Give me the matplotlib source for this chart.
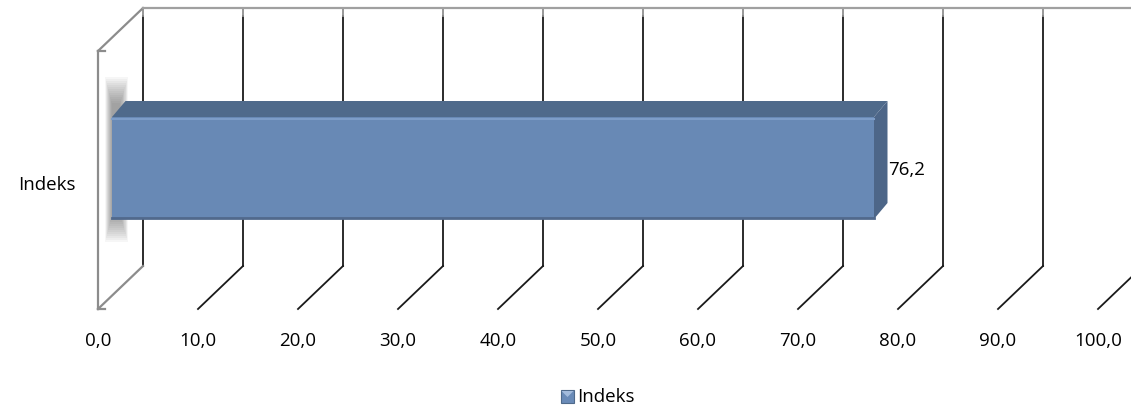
import matplotlib
matplotlib.use("Agg")
import matplotlib.pyplot as plt
from matplotlib.patches import Polygon, Rectangle

# --- data ---
categories = ["Indeks"]
values = [76.2]
ticks = [0, 10, 20, 30, 40, 50, 60, 70, 80, 90, 100]
tick_labels = ["0,0", "10,0", "20,0", "30,0", "40,0", "50,0", "60,0", "70,0", "80,0", "90,0", "100,0"]
value_labels = ["76,2"]
legend_label = "Indeks"

plt.rcParams["font.family"] = ["Open Sans", "DejaVu Sans"]
FS = 13.5

W, H = 1131, 414
fig = plt.figure(figsize=(W / 100, H / 100), dpi=100)
ax = fig.add_axes([0, 0, 1, 1])
# x in value units (10 px per unit, front plane starts at px 98), y in px
ax.set_xlim(-9.8, (W - 98) / 10)
ax.set_ylim(H, 0)
ax.axis("off")

# pseudo-3D geometry (front plane -> back wall offset)
DX, DY = 4.5, -43
floor, top = 310, 52
wall_c = "#8c8c8c"
grid_c = "#1a1a1a"

# left side wall
ax.plot([0, 0], [floor, top], color=wall_c, lw=1.6)
ax.plot([0, DX], [top, top + DY], color=wall_c, lw=1.6)
ax.plot([0, DX], [floor, floor + DY], color=wall_c, lw=1.6)
ax.plot([0, 0.7], [top, top], color=wall_c, lw=1.6)
ax.plot([0, 0.7], [floor, floor], color=wall_c, lw=1.6)
# back wall top edge
ax.plot([DX, ticks[-1] + DX], [top + DY, top + DY], color="#a0a0a0", lw=1.6)

# gridlines on back wall + floor diagonals
for t in ticks:
    ax.plot([t + DX, t + DX], [top + DY + 8, floor + DY], color=grid_c, lw=1.3, zorder=1)
    ax.plot([t + DX, t + DX], [top + DY, top + DY + 8], color="#909090", lw=1.3, zorder=1)
    if t > 0:
        ax.plot([t + DX, t], [floor + DY, floor], color=grid_c, lw=1.3, zorder=1)

# soft shadow on the side wall
for i in range(14):
    ax.add_patch(Rectangle((0.7 + i * 0.05, 78 + i * 2), 2.3 - i * 0.11, 165 - i * 4,
                           facecolor="#404040", alpha=0.045, lw=0, zorder=2))

# bar
bx = 1.4              # front face depth offset
tdx, tdy = 1.35, -16  # bar depth
y0, y1 = 118, 220
for v in values:
    ax.add_patch(Rectangle((bx, y0), v, y1 - y0, facecolor="#6889b5", edgecolor="none", zorder=5))
    ax.plot([bx, bx + v], [y0 + 1.5, y0 + 1.5], color="#7d9dc8", lw=1.5, zorder=6)
    ax.plot([bx, bx + v], [y1 - 1, y1 - 1], color="#51698c", lw=2, zorder=6)
    ax.add_patch(Polygon([(bx, y0), (bx + v, y0), (bx + v + tdx, y0 + tdy), (bx + tdx, y0 + tdy)],
                         closed=True, facecolor="#4f6a8b", edgecolor="none", zorder=5))
    ax.add_patch(Polygon([(bx + v, y0), (bx + v + tdx, y0 + tdy), (bx + v + tdx, y1 + tdy), (bx + v, y1)],
                         closed=True, facecolor="#4d6688", edgecolor="none", zorder=5))
    ax.text(bx + v + tdx + 0.1, 170, value_labels[0], fontsize=FS, color="black",
            ha="left", va="center", zorder=7)

# category label
ax.text(-5.1, 185, categories[0], fontsize=FS, ha="center", va="center")

# tick labels
for t, lab in zip(ticks, tick_labels):
    ax.text(t, 341, lab, fontsize=FS, ha="center", va="center")

# legend
ax.add_patch(Rectangle((46.3, 391), 1.3, 13, facecolor="#6a8bb8", edgecolor="#4f6a8b", lw=0.8))
ax.add_patch(Polygon([(46.35, 392), (47.55, 392), (46.95, 398)], closed=True,
                     facecolor="#a3bbdc", edgecolor="none"))
ax.text(47.9, 397, legend_label, fontsize=FS, ha="left", va="center")

fig.savefig("out.png", dpi=100)
